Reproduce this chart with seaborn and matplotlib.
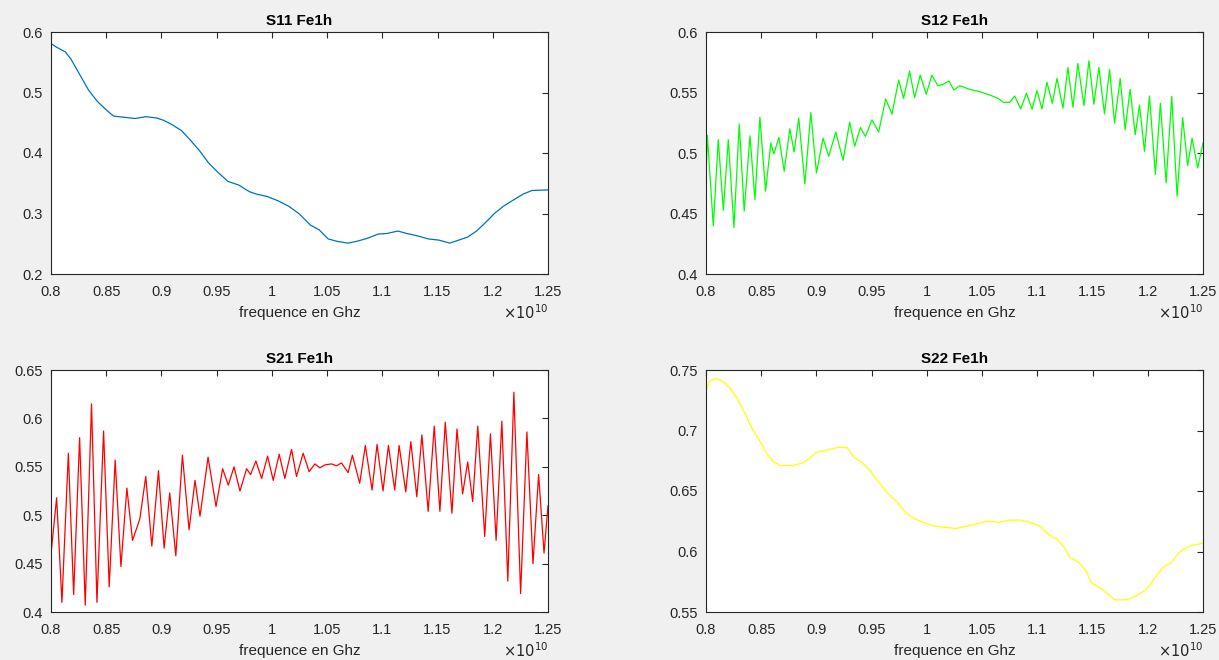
import numpy as np
import pandas as pd
import matplotlib
matplotlib.use("Agg")
import matplotlib.pyplot as plt
import seaborn as sns

# ---- data (frequency in units of 1e10 Hz) ----
s11_f = [0.8, 0.8049, 0.813, 0.8178, 0.8259, 0.834, 0.8421, 0.8502, 0.8567, 0.8664, 0.8761, 0.8858,
         0.8955, 0.902, 0.9085, 0.9182, 0.9263, 0.9344, 0.9425, 0.9506, 0.9603, 0.97, 0.9797, 0.9862,
         0.9959, 1.0056, 1.0153, 1.025, 1.0347, 1.0428, 1.0509, 1.059, 1.0687, 1.0768, 1.0865, 1.0962,
         1.1043, 1.114, 1.1221, 1.1319, 1.1416, 1.1513, 1.161, 1.1691, 1.1772, 1.1853, 1.1934, 1.2015,
         1.2096, 1.2193, 1.2274, 1.2355, 1.25]
s11_v = [0.581, 0.575, 0.567, 0.556, 0.530, 0.504, 0.485, 0.471, 0.461, 0.459, 0.457, 0.460,
         0.458, 0.454, 0.448, 0.437, 0.421, 0.404, 0.384, 0.369, 0.353, 0.347, 0.336, 0.332,
         0.328, 0.321, 0.312, 0.299, 0.281, 0.273, 0.258, 0.254, 0.251, 0.254, 0.259, 0.266,
         0.267, 0.271, 0.267, 0.263, 0.258, 0.256, 0.251, 0.256, 0.261, 0.271, 0.285, 0.300,
         0.312, 0.323, 0.332, 0.338, 0.339]

s12_f = [0.8, 0.8012, 0.8066, 0.8111, 0.8157, 0.8202, 0.8253, 0.8301, 0.8346, 0.8398, 0.8443, 0.8488,
         0.8539, 0.8587, 0.8614, 0.866, 0.8708, 0.8759, 0.8798, 0.884, 0.8895, 0.8949, 0.9, 0.906,
         0.9111, 0.9175, 0.9241, 0.9301, 0.9346, 0.9398, 0.9443, 0.9503, 0.9563, 0.9627, 0.9684, 0.9744,
         0.9789, 0.9843, 0.9889, 0.994, 0.9994, 1.0045, 1.01, 1.0145, 1.0199, 1.0244, 1.0298, 1.0389,
         1.0479, 1.0569, 1.0645, 1.069, 1.075, 1.0795, 1.0849, 1.0901, 1.0952, 1.0997, 1.1042, 1.1087,
         1.1136, 1.1178, 1.1232, 1.1277, 1.1322, 1.1367, 1.1422, 1.1467, 1.1512, 1.1557, 1.1608, 1.1654,
         1.1699, 1.175, 1.1795, 1.184, 1.1886, 1.1925, 1.197, 1.2015, 1.2069, 1.2114, 1.2166, 1.2217,
         1.2265, 1.2316, 1.2361, 1.2401, 1.2452, 1.25]
s12_v = [0.4795, 0.5145, 0.4397, 0.511, 0.4526, 0.511, 0.4384, 0.5238, 0.452, 0.5142, 0.4616, 0.5296,
         0.4685, 0.5082, 0.4992, 0.5129, 0.4849, 0.520, 0.5008, 0.5288, 0.4745, 0.5334, 0.4836, 0.5123,
         0.4973, 0.5173, 0.494, 0.5255, 0.5055, 0.5211, 0.5137, 0.5274, 0.5173, 0.5447, 0.5321, 0.5603,
         0.5452, 0.5677, 0.5458, 0.5644, 0.5485, 0.5644, 0.5556, 0.5567, 0.5595, 0.552, 0.5556, 0.5526,
         0.5507, 0.5479, 0.5452, 0.5419, 0.5419, 0.5471, 0.5364, 0.5493, 0.5362, 0.5515, 0.5364, 0.5584,
         0.5411, 0.5616, 0.537, 0.5707, 0.5378, 0.574, 0.5392, 0.5762, 0.5403, 0.5707, 0.5323, 0.569,
         0.5247, 0.5616, 0.5192, 0.5526, 0.5151, 0.5397, 0.5014, 0.5471, 0.4822, 0.5411, 0.4753, 0.5468,
         0.4644, 0.5293, 0.4896, 0.5123, 0.4877, 0.5082]

s21_f = [0.8, 0.8051, 0.8099, 0.8157, 0.8205, 0.8259, 0.831, 0.8367, 0.8416, 0.8476, 0.8527, 0.8581,
         0.8633, 0.8687, 0.8738, 0.8804, 0.8858, 0.8913, 0.8973, 0.9024, 0.9075, 0.913, 0.919, 0.925,
         0.9304, 0.9349, 0.9422, 0.9494, 0.9554, 0.9605, 0.9657, 0.9711, 0.9771, 0.9807, 0.9855, 0.9907,
         0.9961, 1.0012, 1.0066, 1.0117, 1.0178, 1.0223, 1.0283, 1.0337, 1.0389, 1.0434, 1.048, 1.054,
         1.0584, 1.063, 1.069, 1.0729, 1.0795, 1.0846, 1.0907, 1.0952, 1.1006, 1.1055, 1.1112, 1.1152,
         1.1212, 1.1258, 1.1312, 1.1358, 1.1415, 1.147, 1.1521, 1.157, 1.163, 1.1676, 1.1727, 1.1773,
         1.1818, 1.1864, 1.1927, 1.1979, 1.203, 1.2082, 1.2136, 1.2191, 1.2252, 1.2309, 1.2364, 1.2415,
         1.2464, 1.25]
s21_v = [0.460, 0.518, 0.410, 0.564, 0.418, 0.580, 0.407, 0.615, 0.410, 0.587, 0.426, 0.557,
         0.447, 0.528, 0.474, 0.496, 0.540, 0.468, 0.546, 0.466, 0.523, 0.458, 0.562, 0.485,
         0.536, 0.499, 0.560, 0.509, 0.548, 0.531, 0.550, 0.525, 0.548, 0.542, 0.556, 0.538,
         0.561, 0.536, 0.563, 0.538, 0.568, 0.540, 0.564, 0.545, 0.553, 0.549, 0.552, 0.553,
         0.551, 0.554, 0.544, 0.562, 0.533, 0.572, 0.526, 0.573, 0.525, 0.572, 0.526, 0.572,
         0.524, 0.576, 0.519, 0.583, 0.504, 0.592, 0.504, 0.596, 0.502, 0.589, 0.522, 0.555,
         0.514, 0.592, 0.478, 0.584, 0.474, 0.597, 0.432, 0.627, 0.419, 0.586, 0.450, 0.542,
         0.461, 0.510]

s22_f = [0.8, 0.8032, 0.8097, 0.8161, 0.8226, 0.8291, 0.8355, 0.842, 0.8484, 0.8549, 0.8614, 0.8678,
         0.8775, 0.8872, 0.8937, 0.9, 0.9097, 0.9194, 0.9276, 0.934, 0.9405, 0.9485, 0.955, 0.9647,
         0.9728, 0.9809, 0.9889, 0.997, 1.0068, 1.0165, 1.0262, 1.0359, 1.0456, 1.0553, 1.065, 1.0747,
         1.0844, 1.0941, 1.1021, 1.1102, 1.1183, 1.1247, 1.1296, 1.1377, 1.1441, 1.149, 1.1571, 1.1635,
         1.17, 1.1764, 1.1845, 1.1926, 1.199, 1.2055, 1.2135, 1.2216, 1.2281, 1.2361, 1.25]
s22_v = [0.733, 0.741, 0.743, 0.740, 0.734, 0.725, 0.714, 0.701, 0.692, 0.681, 0.674, 0.671,
         0.671, 0.673, 0.677, 0.682, 0.684, 0.686, 0.686, 0.678, 0.674, 0.667, 0.659, 0.648,
         0.641, 0.632, 0.627, 0.624, 0.621, 0.620, 0.619, 0.621, 0.623, 0.625, 0.624, 0.626,
         0.626, 0.624, 0.621, 0.614, 0.610, 0.603, 0.595, 0.591, 0.584, 0.574, 0.570, 0.565,
         0.560, 0.560, 0.561, 0.565, 0.569, 0.577, 0.587, 0.591, 0.599, 0.604, 0.607]

titles = ["S11 Fe1h", "S12 Fe1h", "S21 Fe1h", "S22 Fe1h"]
xticks = [0.8, 0.85, 0.9, 0.95, 1.0, 1.05, 1.1, 1.15, 1.2, 1.25]
xtick_labels = ["0.8", "0.85", "0.9", "0.95", "1", "1.05", "1.1", "1.15", "1.2", "1.25"]
ylims = [(0.2, 0.6), (0.4, 0.6), (0.4, 0.65), (0.55, 0.75)]
yticks = [[0.2, 0.3, 0.4, 0.5, 0.6],
          [0.4, 0.45, 0.5, 0.55, 0.6],
          [0.4, 0.45, 0.5, 0.55, 0.6, 0.65],
          [0.55, 0.6, 0.65, 0.7, 0.75]]
ytick_labels = [["0.2", "0.3", "0.4", "0.5", "0.6"],
                ["0.4", "0.45", "0.5", "0.55", "0.6"],
                ["0.4", "0.45", "0.5", "0.55", "0.6", "0.65"],
                ["0.55", "0.6", "0.65", "0.7", "0.75"]]
colors = ["#0072BD", "#00FF00", "#FF0000", "#FFFF00"]
series = [(s11_f, s11_v), (s12_f, s12_v), (s21_f, s21_v), (s22_f, s22_v)]

sns.set_theme(style="white")
plt.rcParams['font.family'] = ['Liberation Sans', 'DejaVu Sans']

W, H = 1219, 660
fig = plt.figure(figsize=(W / 100, H / 100), dpi=100, facecolor="#f0f0f0")

# axes boxes in pixels: (left, top, right, bottom)
boxes = [(51, 32, 548, 274), (706, 32, 1203, 274), (51, 370, 548, 612), (706, 370, 1203, 612)]
axc = "#262626"
for i, (l, t, r, b) in enumerate(boxes):
    ax = fig.add_axes([l / W, 1 - b / H, (r - l) / W, (b - t) / H])
    ax.set_facecolor("white")
    f, v = series[i]
    df = pd.DataFrame({"f": f, "v": v})
    sns.lineplot(data=df, x="f", y="v", ax=ax, color=colors[i], lw=0.9,
                 estimator=None, sort=False)
    ax.set_xlim(0.8, 1.25)
    ax.set_ylim(*ylims[i])
    ax.set_xticks(xticks)
    ax.set_xticklabels(xtick_labels)
    ax.set_yticks(yticks[i])
    ax.set_yticklabels(ytick_labels[i])
    ax.tick_params(direction="in", length=4, width=0.8, colors=axc, labelsize=10.5,
                   top=True, right=True, labelcolor=axc)
    ax.tick_params(axis="x", pad=8)
    ax.tick_params(axis="y", pad=6)
    for s in ax.spines.values():
        s.set_visible(True)
        s.set_color(axc)
        s.set_linewidth(0.8)
    ax.set_title(titles[i], fontsize=11, fontweight="bold", color="black", pad=5)
    ax.set_xlabel("frequence en Ghz", fontsize=11, color=axc, labelpad=5)
    ax.set_ylabel("")
    ax.text(1.0, -0.16, r"$\times10^{10}$", transform=ax.transAxes, ha="right", va="center",
            fontsize=10.5, color=axc)

fig.savefig("out.png", dpi=100, facecolor=fig.get_facecolor())
